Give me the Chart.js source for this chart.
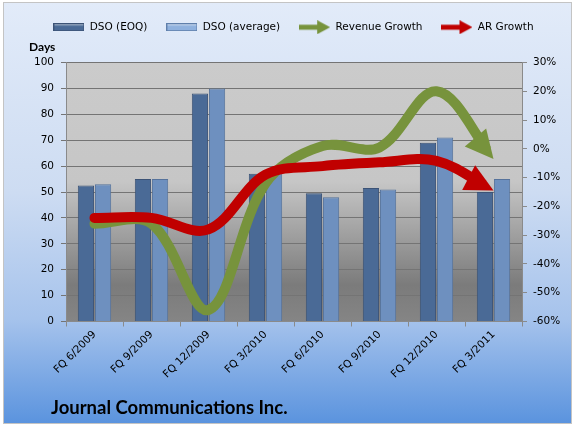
<!DOCTYPE html>
<html>
<head>
<meta charset="utf-8">
<script src="https://cdn.jsdelivr.net/npm/chart.js@4/dist/chart.umd.min.js"></script>
<style>
  html, body { margin: 0; padding: 0; background: #fff; }
  canvas { display: block; }
</style>
</head>
<body>
<canvas id="chart" width="575" height="427"></canvas>
<script>
// values
const quarters = ['FQ 6/2009', 'FQ 9/2009', 'FQ 12/2009', 'FQ 3/2010', 'FQ 6/2010', 'FQ 9/2010', 'FQ 12/2010', 'FQ 3/2011'];
const dsoEoq = [52.5, 55, 88, 57, 49.5, 51.5, 69, 50];
const dsoAvg = [53, 55, 90, 58, 48, 51, 71, 55];
const revenueGrowth = [-26, -26, -56, -12, 1, 0.5, 20, -3.5];
const arGrowth = [-24, -24, -28, -9, -6, -4.7, -4.2, -14.5];
const daysTicks = [0, 100];
const pctTicks = [-60, 30];

const FONT = 'DejaVu Sans';
Chart.defaults.font.family = FONT;
Chart.defaults.font.size = 10.5;
Chart.defaults.color = '#000';

// small legend icons
function barIcon(fill, edge) {
    const c = document.createElement('canvas');
    c.width = 31; c.height = 8;
    const g = c.getContext('2d');
    const grad = g.createLinearGradient(0, 0, 0, 8);
    grad.addColorStop(0, '#ffffff');
    grad.addColorStop(0.35, fill);
    grad.addColorStop(1, fill);
    g.fillStyle = grad;
    g.fillRect(0.5, 0.5, 30, 7);
    g.strokeStyle = edge;
    g.strokeRect(0.5, 0.5, 30, 7);
    return c;
}

function arrowIcon(color) {
    const c = document.createElement('canvas');
    c.width = 31; c.height = 14;
    const g = c.getContext('2d');
    g.fillStyle = color;
    g.fillRect(0, 4.5, 20, 5);
    g.beginPath();
    g.moveTo(18, 0);
    g.lineTo(31, 7);
    g.lineTo(18, 14);
    g.closePath();
    g.fill();
    return c;
}

const GREEN = '#77933c';
const RED = '#c00000';

// page + plot backgrounds
const backdrop = {
    id: 'backdrop',
    beforeDraw(chart) {
        const ctx = chart.ctx;
        const { top, bottom, left, right } = chart.chartArea;
        ctx.save();
        ctx.fillStyle = '#fff';
        ctx.fillRect(0, 0, chart.width, chart.height);
        const bg = ctx.createLinearGradient(0, 3, 0, 424);
        bg.addColorStop(0, '#e2ebf9');
        bg.addColorStop(0.45, '#cddcf2');
        bg.addColorStop(0.75, '#a6c3ec');
        bg.addColorStop(1, '#5a93de');
        ctx.fillStyle = bg;
        ctx.fillRect(3.5, 2.5, 568, 421);
        ctx.strokeStyle = '#c4c4c4';
        ctx.lineWidth = 1;
        ctx.strokeRect(3.5, 2.5, 568, 421);
        const pg = ctx.createLinearGradient(0, top, 0, bottom);
        pg.addColorStop(0, '#cbcbcb');
        pg.addColorStop(0.46, '#c6c6c6');
        pg.addColorStop(0.86, '#7b7b7b');
        pg.addColorStop(1, '#858585');
        ctx.fillStyle = pg;
        ctx.fillRect(left, top, right - left, bottom - top);
        ctx.restore();
    }
};

// arrow heads at the end of the growth lines
const arrowHeads = {
    id: 'arrowHeads',
    beforeDatasetDraw(chart, args) {
        const ds = chart.data.datasets[args.index];
        if (!ds.arrow) return;
        const pts = args.meta.data;
        const tip = pts[pts.length - 1];
        const ctx = chart.ctx;
        ctx.save();
        ctx.beginPath();
        ctx.rect(0, 0, chart.width, chart.height);
        ctx.arc(tip.x, tip.y, 12, 0, Math.PI * 2);
        ctx.clip('evenodd');
    },
    afterDatasetDraw(chart, args) {
        const ds = chart.data.datasets[args.index];
        if (!ds.arrow) return;
        const ctx = chart.ctx;
        ctx.restore();
        const pts = args.meta.data;
        const tip = pts[pts.length - 1];
        const prev = pts[pts.length - 2];
        const fx = tip.cp1x !== undefined ? tip.cp1x : prev.x;
        const fy = tip.cp1y !== undefined ? tip.cp1y : prev.y;
        const a = Math.atan2(tip.y - fy, tip.x - fx);
        const len = 28, half = 14;
        const bx = tip.x - Math.cos(a) * len;
        const by = tip.y - Math.sin(a) * len;
        const nx = -Math.sin(a), ny = Math.cos(a);
        ctx.save();
        ctx.fillStyle = ds.borderColor;
        ctx.beginPath();
        ctx.moveTo(tip.x, tip.y);
        ctx.lineTo(bx + nx * half, by + ny * half);
        ctx.lineTo(bx - nx * half, by - ny * half);
        ctx.closePath();
        ctx.fill();
        ctx.restore();
    }
};

// titles
const labelsText = {
    id: 'labelsText',
    afterDraw(chart) {
        const ctx = chart.ctx;
        ctx.save();
        ctx.fillStyle = '#000';
        ctx.textBaseline = 'middle';
        ctx.textAlign = 'left';
        ctx.font = 'bold 12px Lato';
        ctx.fillText('Days', 29, 47);
        ctx.font = 'bold 18.5px Lato';
        ctx.fillText('Journal Communications Inc.', 51, 408);
        ctx.restore();
    }
};

// legend placement
const legendBox = {
    id: 'legendBox',
    beforeInit(chart) {
        const fit = chart.legend.fit;
        chart.legend.fit = function () {
            fit.call(this);
            this.height = 59.5;
        };
    },
    afterLayout(chart) {
        chart.legend.left += 6;
        chart.legend.right += 6;
    }
};

new Chart(document.getElementById('chart'), {
    data: {
        labels: quarters,
        datasets: [
            {
                type: 'line', label: 'Revenue Growth', data: revenueGrowth, yAxisID: 'y1',
                borderColor: GREEN, borderWidth: 10, tension: 0.35, pointRadius: 0,
                borderCapStyle: 'round', order: 2, arrow: true
            },
            {
                type: 'line', label: 'AR Growth', data: arGrowth, yAxisID: 'y1',
                borderColor: RED, borderWidth: 10, tension: 0.35, pointRadius: 0,
                borderCapStyle: 'round', order: 1, arrow: true
            },
            {
                type: 'bar', label: 'DSO (EOQ)', data: dsoEoq, yAxisID: 'y',
                backgroundColor: '#4a6a96', borderColor: '#3c5376', borderWidth: 1,
                categoryPercentage: 0.6, barPercentage: 0.95, order: 3
            },
            {
                type: 'bar', label: 'DSO (average)', data: dsoAvg, yAxisID: 'y',
                backgroundColor: '#6e90bf', borderColor: '#56739c', borderWidth: 1,
                categoryPercentage: 0.6, barPercentage: 0.95, order: 3
            }
        ]
    },
    options: {
        responsive: false,
        animation: false,
        layout: { padding: { top: 3, left: 0, right: 0, bottom: 0 } },
        plugins: {
            legend: {
                position: 'top',
                labels: {
                    usePointStyle: true,
                    pointStyleWidth: 31,
                    padding: 19,
                    font: { size: 10.5 },
                    generateLabels() {
                        return [
                            { text: 'DSO (EOQ)', pointStyle: barIcon('#4a6a96', '#3c5376'), datasetIndex: 2 },
                            { text: 'DSO (average)', pointStyle: barIcon('#8fb1de', '#5f7fab'), datasetIndex: 3 },
                            { text: 'Revenue Growth', pointStyle: arrowIcon(GREEN), datasetIndex: 0 },
                            { text: 'AR Growth', pointStyle: arrowIcon(RED), datasetIndex: 1 }
                        ];
                    }
                }
            },
            tooltip: { enabled: false }
        },
        scales: {
            x: {
                offset: true,
                grid: { drawOnChartArea: false, offset: true, tickLength: 5, color: '#8a8a8a' },
                border: { color: '#8a8a8a' },
                ticks: { minRotation: 45, maxRotation: 45, autoSkip: false, padding: 2 },
                afterFit(scale) { scale.height = 105.5; }
            },
            y: {
                position: 'left',
                min: daysTicks[0], max: daysTicks[1],
                ticks: { stepSize: 10, padding: 7 },
                grid: { color: '#747474', tickLength: 5 },
                border: { color: '#8a8a8a' },
                afterFit(scale) { scale.width = 66; }
            },
            y1: {
                position: 'right',
                min: pctTicks[0], max: pctTicks[1],
                ticks: { stepSize: 10, padding: 6, callback: v => v + '%' },
                grid: { drawOnChartArea: false, tickLength: 5, color: '#8a8a8a' },
                border: { color: '#8a8a8a' },
                afterFit(scale) { scale.width = 53; }
            }
        }
    },
    plugins: [backdrop, arrowHeads, labelsText, legendBox]
});
</script>
</body>
</html>
